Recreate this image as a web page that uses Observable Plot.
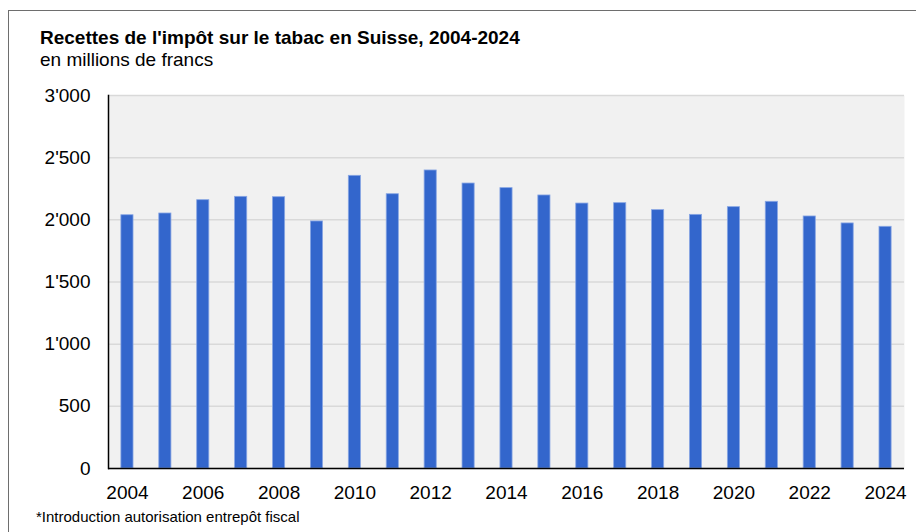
<!DOCTYPE html>
<html>
<head>
<meta charset="utf-8">
<script src="https://cdn.jsdelivr.net/npm/d3@7"></script>
<script src="https://cdn.jsdelivr.net/npm/@observablehq/plot@0.6"></script>
<style>
  html, body { margin: 0; padding: 0; background: #fff; }
  body { width: 916px; height: 532px; position: relative; overflow: hidden; font-family: "Liberation Sans", Arial, sans-serif; }
  #box { position: absolute; left: 8px; top: 10px; width: 940px; height: 560px; border: 1.5px solid #6e6e6e; box-sizing: border-box; }
  #title { position: absolute; left: 40px; top: 27px; font-size: 19px; font-weight: bold; color: #000; white-space: nowrap; }
  #subtitle { position: absolute; left: 40px; top: 49px; font-size: 19px; color: #000; white-space: nowrap; }
  #chart { position: absolute; left: 0; top: 85px; }
  #note { position: absolute; left: 36px; top: 508px; font-size: 15px; color: #000; white-space: nowrap; }
</style>
</head>
<body>
<div id="box"></div>
<div id="title">Recettes de l'impôt sur le tabac en Suisse, 2004-2024</div>
<div id="subtitle">en millions de francs</div>
<div id="chart"></div>
<div id="note">*Introduction autorisation entrepôt fiscal</div>
<script>
const years = [2004, 2005, 2006, 2007, 2008, 2009, 2010, 2011, 2012, 2013, 2014, 2015, 2016, 2017, 2018, 2019, 2020, 2021, 2022, 2023, 2024];
const recettes = [2037, 2051, 2158, 2185, 2182, 1987, 2354, 2206, 2397, 2292, 2255, 2196, 2131, 2134, 2078, 2040, 2102, 2145, 2027, 1971, 1944];
const yTicks = [0, 500, 1000, 1500, 2000, 2500, 3000];
const xTicks = [2004, 2006, 2008, 2010, 2012, 2014, 2016, 2018, 2020, 2022, 2024];

const data = years.map((y, i) => ({year: y, value: recettes[i]}));
const fmt = d3.formatLocale({thousands: "'", grouping: [3], decimal: "."}).format(",d");

const chart = Plot.plot({
  width: 916,
  height: 420,
  marginLeft: 108,
  marginRight: 12,
  marginTop: 10,
  marginBottom: 37,
  style: {fontFamily: "'Liberation Sans', Arial, sans-serif", fontSize: "19px", color: "#000", background: "transparent"},
  x: {type: "band", domain: years, paddingInner: 0.68, paddingOuter: 0.34, round: false, label: null},
  y: {domain: [0, 3000], label: null},
  marks: [
    Plot.frame({fill: "#f1f1f1", stroke: null}),
    Plot.ruleY(yTicks, {stroke: "#d9d9d9", strokeWidth: 1.5}),
    Plot.barY(data, {x: "year", y: "value", fill: "#3366cc", stroke: "#88a6e4", strokeWidth: 0.8}),
    Plot.axisY(yTicks, {tickSize: 0, tickPadding: 18, tickFormat: fmt, fontSize: 19, label: null}),
    Plot.axisX(xTicks, {tickSize: 0, tickPadding: 16.5, tickFormat: d => String(d), fontSize: 19, label: null}),
    Plot.ruleY([0], {stroke: "#000", strokeWidth: 1.5}),
    Plot.frame({anchor: "left", stroke: "#000", strokeWidth: 1.5})
  ]
});
document.getElementById("chart").appendChild(chart);
</script>
</body>
</html>
